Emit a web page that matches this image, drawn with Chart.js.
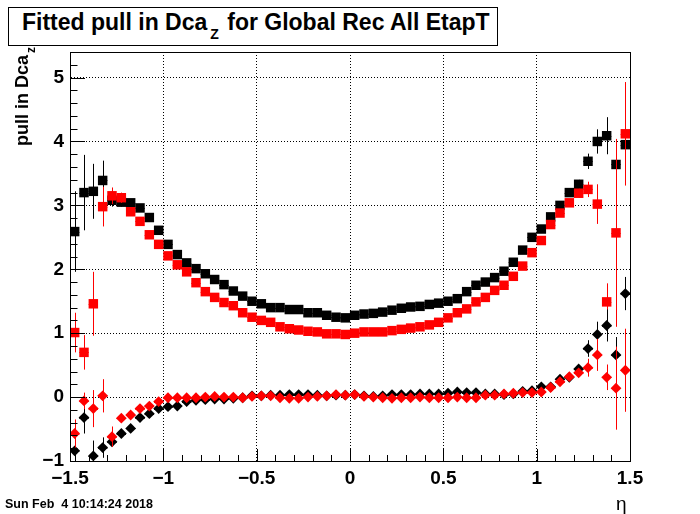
<!DOCTYPE html>
<html>
<head>
<meta charset="utf-8">
<script src="https://cdn.jsdelivr.net/npm/chart.js@4.4.1/dist/chart.umd.min.js"></script>
<style>
  body { margin: 0; background: #fff; }
  #wrap { position: relative; width: 700px; height: 514px; overflow: hidden; background: #fff;
          font-family: "Liberation Sans", Arial, Helvetica, sans-serif; font-weight: bold; color: #000; }
  #c { position: absolute; left: 0; top: 0; }
  #titlebox { position: absolute; left: 8px; top: 7px; width: 490px; height: 39px; box-sizing: border-box;
              border: 1px solid #000; background: #fff; }
  #titletext { position: absolute; left: 22px; top: 8px; font-size: 23px; line-height: 28px; white-space: nowrap; }
  #titletext .sub { font-size: 14px; position: relative; top: 9px; margin-left: 3px; margin-right: 2px; }
  #ytitle { position: absolute; left: 0; top: 0; width: 200px; text-align: right; white-space: nowrap;
            font-size: 18px; line-height: 21px; transform-origin: 0 0;
            transform: translate(12px, 247px) rotate(-90deg); }
  #ytitle .sub { font-size: 12px; position: relative; top: 7px; margin-left: 2px; }
  #xtitle { position: absolute; left: 616px; top: 493px; font-size: 19px; font-weight: normal; line-height: 22px; }
  #date { position: absolute; left: 5px; top: 497px; font-size: 12.5px; line-height: 14px; white-space: nowrap; }
</style>
</head>
<body>
<div id="wrap">
  <canvas id="c" width="700" height="514"></canvas>
  <div id="titlebox"></div>
  <div id="titletext">Fitted pull in Dca<span class="sub">Z</span> for Global Rec All EtapT</div>
  <div id="ytitle">pull in Dca<span class="sub">z</span></div>
  <div id="xtitle">η</div>
  <div id="date">Sun Feb&nbsp;&nbsp;4 10:14:24 2018</div>
</div>
<script>
// ---- data ----
const etaBins = [-1.475,-1.425,-1.375,-1.325,-1.275,-1.225,-1.175,-1.125,-1.075,-1.025,
  -0.975,-0.925,-0.875,-0.825,-0.775,-0.725,-0.675,-0.625,-0.575,-0.525,
  -0.475,-0.425,-0.375,-0.325,-0.275,-0.225,-0.175,-0.125,-0.075,-0.025,
  0.025,0.075,0.125,0.175,0.225,0.275,0.325,0.375,0.425,0.475,
  0.525,0.575,0.625,0.675,0.725,0.775,0.825,0.875,0.925,0.975,
  1.025,1.075,1.125,1.175,1.225,1.275,1.325,1.375,1.425,1.475];
const binHalfWidth = 0.025;

const blackSq = [2.59,3.20,3.22,3.39,3.08,3.05,3.04,2.96,2.81,2.61,
  2.39,2.23,2.10,2.01,1.93,1.84,1.76,1.66,1.58,1.50,
  1.46,1.40,1.40,1.37,1.37,1.32,1.32,1.28,1.25,1.24,
  1.28,1.30,1.31,1.33,1.36,1.39,1.41,1.42,1.45,1.47,
  1.50,1.54,1.65,1.75,1.80,1.87,1.97,2.11,2.30,2.50,
  2.63,2.82,3.00,3.20,3.33,3.69,4.00,4.09,3.64,3.95];
const blackSqErr = [0.63,0.59,0.43,0.31,0.10,0.07,0.06,0.05,0.05,0.04,
  0.04,0.04,0.03,0.03,0.03,0.03,0.03,0.03,0.03,0.03,
  0.02,0.02,0.02,0.02,0.02,0.02,0.02,0.02,0.02,0.02,
  0.02,0.02,0.02,0.02,0.02,0.02,0.02,0.02,0.02,0.02,
  0.03,0.03,0.03,0.03,0.03,0.03,0.03,0.03,0.04,0.04,
  0.04,0.05,0.05,0.06,0.07,0.12,0.19,0.29,0.10,0.30];

const redSq = [1.01,0.70,1.46,2.98,3.15,3.12,2.90,2.75,2.54,2.39,
  2.21,2.07,1.96,1.79,1.65,1.56,1.48,1.43,1.32,1.25,
  1.20,1.17,1.10,1.07,1.05,1.03,1.02,0.99,0.99,0.98,
  1.00,1.02,1.02,1.02,1.04,1.06,1.08,1.10,1.13,1.17,
  1.24,1.32,1.38,1.49,1.56,1.67,1.75,1.89,2.05,2.26,
  2.45,2.70,2.88,3.04,3.19,3.25,3.02,1.49,2.57,4.12];
const redSqErr = [0.31,0.27,0.50,0.31,0.13,0.08,0.06,0.05,0.05,0.04,
  0.04,0.04,0.03,0.03,0.03,0.03,0.03,0.03,0.03,0.03,
  0.02,0.02,0.02,0.02,0.02,0.02,0.02,0.02,0.02,0.02,
  0.02,0.02,0.02,0.02,0.02,0.02,0.02,0.02,0.02,0.02,
  0.03,0.03,0.03,0.03,0.03,0.03,0.03,0.03,0.04,0.04,
  0.04,0.05,0.05,0.06,0.07,0.12,0.31,0.29,1.47,0.81];

const blackDia = [-0.84,-0.32,-0.92,-0.79,-0.70,-0.57,-0.49,-0.32,-0.26,-0.18,
  -0.15,-0.14,-0.07,-0.05,-0.04,-0.03,-0.03,-0.02,-0.01,0.02,
  0.02,0.03,0.03,0.04,0.04,0.04,0.03,0.02,0.03,0.03,
  0.04,0.02,0.01,0.02,0.04,0.04,0.04,0.05,0.05,0.05,
  0.06,0.08,0.07,0.07,0.05,0.05,0.04,0.05,0.09,0.10,
  0.16,0.16,0.28,0.31,0.44,0.76,0.98,1.12,0.66,1.62];
const blackDiaErr = [0.17,0.25,0.24,0.16,0.08,0.05,0.04,0.04,0.03,0.03,
  0.03,0.03,0.03,0.02,0.02,0.02,0.02,0.02,0.02,0.02,
  0.02,0.02,0.02,0.02,0.02,0.02,0.02,0.02,0.02,0.02,
  0.02,0.02,0.02,0.02,0.02,0.02,0.02,0.02,0.02,0.02,
  0.02,0.02,0.02,0.02,0.02,0.02,0.03,0.03,0.03,0.03,
  0.03,0.03,0.04,0.04,0.05,0.13,0.20,0.25,0.28,0.26];

const redDia = [-0.57,-0.06,-0.18,0.02,-0.62,-0.33,-0.28,-0.18,-0.14,-0.07,
  -0.01,-0.01,-0.01,-0.01,0.00,0.01,0.00,0.00,-0.01,0.01,
  0.02,0.02,-0.01,-0.02,-0.02,0.00,0.01,0.02,0.04,0.03,
  0.04,0.01,0.00,-0.01,-0.02,-0.01,-0.01,0.00,-0.01,-0.01,
  -0.01,0.00,-0.01,-0.01,0.03,0.03,0.05,0.06,0.07,0.07,
  0.08,0.15,0.24,0.32,0.38,0.46,0.66,0.31,0.14,0.42];
const redDiaErr = [0.22,0.13,0.29,0.26,0.16,0.06,0.05,0.04,0.03,0.03,
  0.03,0.03,0.03,0.02,0.02,0.02,0.02,0.02,0.02,0.02,
  0.02,0.02,0.02,0.02,0.02,0.02,0.02,0.02,0.02,0.02,
  0.02,0.02,0.02,0.02,0.02,0.02,0.02,0.02,0.02,0.02,
  0.02,0.02,0.02,0.02,0.02,0.02,0.03,0.03,0.03,0.03,
  0.03,0.03,0.04,0.04,0.05,0.14,0.25,0.20,0.65,0.65];

const xTicks = [-1.5, -1, -0.5, 0, 0.5, 1, 1.5];
const yTicks = [-1, 0, 1, 2, 3, 4, 5];
const xRange = [-1.5, 1.5];
const yRange = [-1, 5.4];

// ---- helpers ----
const pts = (ys) => etaBins.map((x, i) => ({ x: x, y: ys[i] }));
const fmt = (v) => String(v).replace('-', '\u2212');
const FONT = '"Liberation Sans", Arial, Helvetica, sans-serif';

const errorBars = {
  id: 'errorBars',
  beforeDatasetDraw(chart, args) {
    const ds = chart.data.datasets[args.index];
    if (!ds.errors) return;
    const xs = chart.scales.x, ys = chart.scales.y, ca = chart.chartArea, ctx = chart.ctx;
    ctx.save();
    ctx.beginPath();
    ctx.rect(ca.left, ca.top, ca.right - ca.left, ca.bottom - ca.top);
    ctx.clip();
    ctx.strokeStyle = ds.backgroundColor;
    ctx.lineWidth = 1;
    ctx.beginPath();
    ds.data.forEach((p, i) => {
      const e = ds.errors[i];
      const px = Math.round(xs.getPixelForValue(p.x)) + 0.5;
      ctx.moveTo(px, ys.getPixelForValue(p.y + e));
      ctx.lineTo(px, ys.getPixelForValue(p.y - e));
      const hy = Math.round(ys.getPixelForValue(p.y)) + 0.5;
      ctx.moveTo(xs.getPixelForValue(p.x - binHalfWidth), hy);
      ctx.lineTo(xs.getPixelForValue(p.x + binHalfWidth), hy);
    });
    ctx.stroke();
    ctx.restore();
  }
};

const frameTicks = {
  id: 'frameTicks',
  afterDraw(chart) {
    const ctx = chart.ctx, ca = chart.chartArea, xs = chart.scales.x, ys = chart.scales.y;
    ctx.save();
    ctx.strokeStyle = '#000';
    ctx.lineWidth = 1;
    ctx.strokeRect(Math.round(ca.left) + 0.5, Math.round(ca.top) + 0.5,
                   Math.round(ca.right - ca.left), Math.round(ca.bottom - ca.top));
    ctx.beginPath();
    for (let k = 0; k <= 30; k++) {
      const v = xRange[0] + k * 0.1;
      const px = Math.round(xs.getPixelForValue(v)) + 0.5;
      const len = (k % 5 === 0) ? 12 : 6;
      ctx.moveTo(px, ca.bottom);
      ctx.lineTo(px, ca.bottom - len);
    }
    for (let k = 0; k <= 32; k++) {
      const v = yRange[0] + k * 0.2;
      const py = Math.round(ys.getPixelForValue(v)) + 0.5;
      const len = (k % 5 === 0) ? 15 : 7.5;
      ctx.moveTo(ca.left, py);
      ctx.lineTo(ca.left + len, py);
    }
    ctx.stroke();
    ctx.restore();
  }
};

const mk = (label, ys, errs, color, style, radius, order) => ({
  label, data: pts(ys), errors: errs,
  backgroundColor: color, borderColor: color, borderWidth: 0,
  pointStyle: style, pointRadius: radius, pointHoverRadius: radius,
  showLine: false, order
});

new Chart(document.getElementById('c'), {
  type: 'scatter',
  data: {
    datasets: [
      mk('black squares', blackSq, blackSqErr, '#000000', 'rect', 6.7, 4),
      mk('red squares', redSq, redSqErr, '#ff0000', 'rect', 6.7, 3),
      mk('black diamonds', blackDia, blackDiaErr, '#000000', 'rectRot', 5.4, 2),
      mk('red diamonds', redDia, redDiaErr, '#ff0000', 'rectRot', 5.4, 1)
    ]
  },
  options: {
    responsive: false,
    animation: false,
    events: [],
    layout: { padding: { top: 52, right: 70, left: 0, bottom: 0 } },
    plugins: { legend: { display: false }, title: { display: false }, tooltip: { enabled: false } },
    scales: {
      x: {
        type: 'linear', min: xRange[0], max: xRange[1],
        afterFit: (s) => { s.height = 53; },
        afterBuildTicks: (s) => { s.ticks = xTicks.map(v => ({ value: v })); },
        ticks: { callback: (v) => fmt(v), color: '#000', padding: 6, maxRotation: 0, autoSkip: false,
                 font: { family: FONT, size: 19, weight: 'bold' } },
        grid: { color: '#000', lineWidth: 1, drawTicks: false },
        border: { display: true, color: '#000', dash: [1, 2] }
      },
      y: {
        type: 'linear', min: yRange[0], max: yRange[1],
        afterFit: (s) => { s.width = 70; },
        afterBuildTicks: (s) => { s.ticks = yTicks.map(v => ({ value: v })); },
        ticks: { callback: (v) => fmt(v), color: '#000', padding: 6, autoSkip: false,
                 font: { family: FONT, size: 19, weight: 'bold' } },
        grid: { color: '#000', lineWidth: 1, drawTicks: false },
        border: { display: true, color: '#000', dash: [1, 2] }
      }
    }
  },
  plugins: [errorBars, frameTicks]
});
</script>
</body>
</html>
